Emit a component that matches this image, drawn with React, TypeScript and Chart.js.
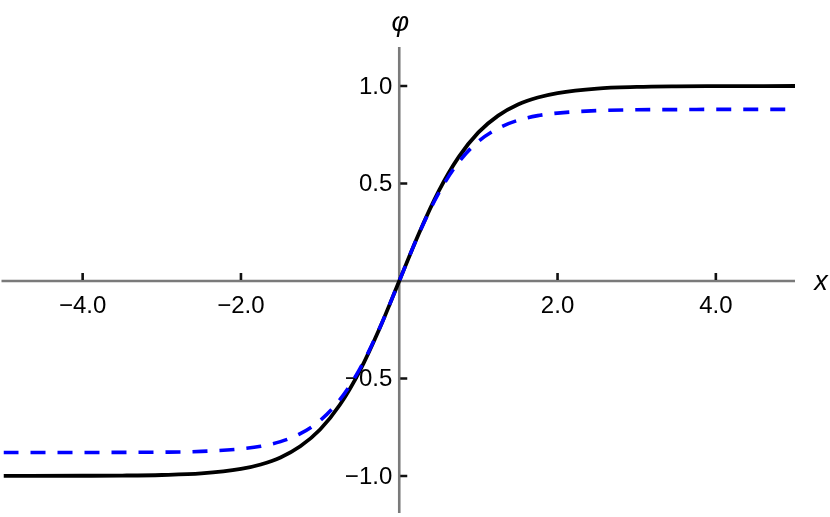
import { useEffect, useRef } from 'react';
import { Chart, registerables } from 'chart.js';

Chart.register(...registerables);

// x sample positions
const xValues = [-5, -4, -3.5, -3, -2.5, -2, -1.75, -1.5, -1.25, -1, -0.75, -0.5, -0.25, 0, 0.25, 0.5, 0.75, 1, 1.25, 1.5, 1.75, 2, 2.5, 3, 3.5, 4, 5];
// black solid curve
const phiSolid = [-1.0, -0.999, -0.998, -0.995, -0.987, -0.964, -0.941, -0.905, -0.848, -0.762, -0.635, -0.462, -0.245, 0, 0.245, 0.462, 0.635, 0.762, 0.848, 0.905, 0.941, 0.964, 0.987, 0.995, 0.998, 0.999, 1.0];
// blue dashed curve
const phiDashed = [-0.88, -0.88, -0.879, -0.878, -0.874, -0.861, -0.848, -0.824, -0.783, -0.716, -0.609, -0.452, -0.244, 0, 0.244, 0.452, 0.609, 0.716, 0.783, 0.824, 0.848, 0.861, 0.874, 0.878, 0.879, 0.88, 0.88];

const xTickValues = [-4, -2, 2, 4];
const yTickValues = [-1, -0.5, 0.5, 1];
const xTitle = 'x';
const yTitle = 'φ';

const fmt = (v: number) => (v < 0 ? '\u2212' : '') + Math.abs(v).toFixed(1);
const FONT = '"Liberation Sans", Arial, sans-serif';

const crossAxes = {
  id: 'crossAxes',
  beforeDatasetsDraw(chart: any) {
    const { ctx, chartArea, scales } = chart;
    const xs = scales.x;
    const ys = scales.y;
    const x0 = xs.getPixelForValue(0);
    const y0 = ys.getPixelForValue(0);
    ctx.save();
    ctx.strokeStyle = '#7a7a7a';
    ctx.lineWidth = 2.6;
    ctx.beginPath();
    ctx.moveTo(chartArea.left - 2, y0);
    ctx.lineTo(chartArea.right, y0);
    ctx.moveTo(x0, chartArea.top);
    ctx.lineTo(x0, chartArea.bottom);
    ctx.stroke();

    ctx.strokeStyle = '#111111';
    ctx.lineWidth = 2.6;
    ctx.beginPath();
    for (const v of xTickValues) {
      const px = xs.getPixelForValue(v);
      ctx.moveTo(px, y0 - 1);
      ctx.lineTo(px, y0 - 8);
    }
    for (const v of yTickValues) {
      const py = ys.getPixelForValue(v);
      ctx.moveTo(x0 + 1, py);
      ctx.lineTo(x0 + 8, py);
    }
    ctx.stroke();

    ctx.fillStyle = '#000';
    ctx.font = `24px ${FONT}`;
    ctx.textAlign = 'center';
    ctx.textBaseline = 'top';
    for (const v of xTickValues) {
      ctx.fillText(fmt(v), xs.getPixelForValue(v), y0 + 13);
    }
    ctx.textAlign = 'right';
    ctx.textBaseline = 'middle';
    for (const v of yTickValues) {
      ctx.fillText(fmt(v), x0 - 7, ys.getPixelForValue(v) + 1);
    }

    ctx.font = `italic 27px ${FONT}`;
    ctx.textAlign = 'center';
    ctx.textBaseline = 'middle';
    ctx.fillText(xTitle, chartArea.right + 26, y0 + 2);
    ctx.fillText(yTitle, x0 + 1, chartArea.top - 24);
    ctx.restore();
  },
};

export default function App() {
  const ref = useRef<HTMLCanvasElement>(null);
  useEffect(() => {
    document.body.style.margin = '0';
    const canvas = ref.current!;
    const chart = new Chart(canvas, {
      type: 'line',
      data: {
        datasets: [
          {
            label: 'dashed',
            data: xValues.map((x, i) => ({ x, y: phiDashed[i] })),
            borderColor: '#0000ff',
            borderWidth: 3.6,
            borderDash: [15, 12],
            pointRadius: 0,
            cubicInterpolationMode: 'monotone',
            fill: false,
            order: 0,
          },
          {
            label: 'solid',
            data: xValues.map((x, i) => ({ x, y: phiSolid[i] })),
            borderColor: '#000000',
            borderWidth: 3.8,
            pointRadius: 0,
            cubicInterpolationMode: 'monotone',
            fill: false,
            order: 1,
          },
        ],
      },
      options: {
        animation: false,
        responsive: false,
        devicePixelRatio: 1,
        layout: { padding: { left: 3.5, right: 35, top: 47, bottom: 4 } },
        plugins: { legend: { display: false }, tooltip: { enabled: false } },
        scales: {
          x: { type: 'linear', min: -5, max: 5, display: false },
          y: { type: 'linear', min: -1.19, max: 1.2, display: false },
        },
      },
      plugins: [crossAxes],
    });
    return () => chart.destroy();
  }, []);
  return (
    <div style={{ position: 'absolute', left: 0, top: 0, width: 830, height: 517, background: '#fff' }}>
      <canvas ref={ref} width={830} height={517} />
    </div>
  );
}
